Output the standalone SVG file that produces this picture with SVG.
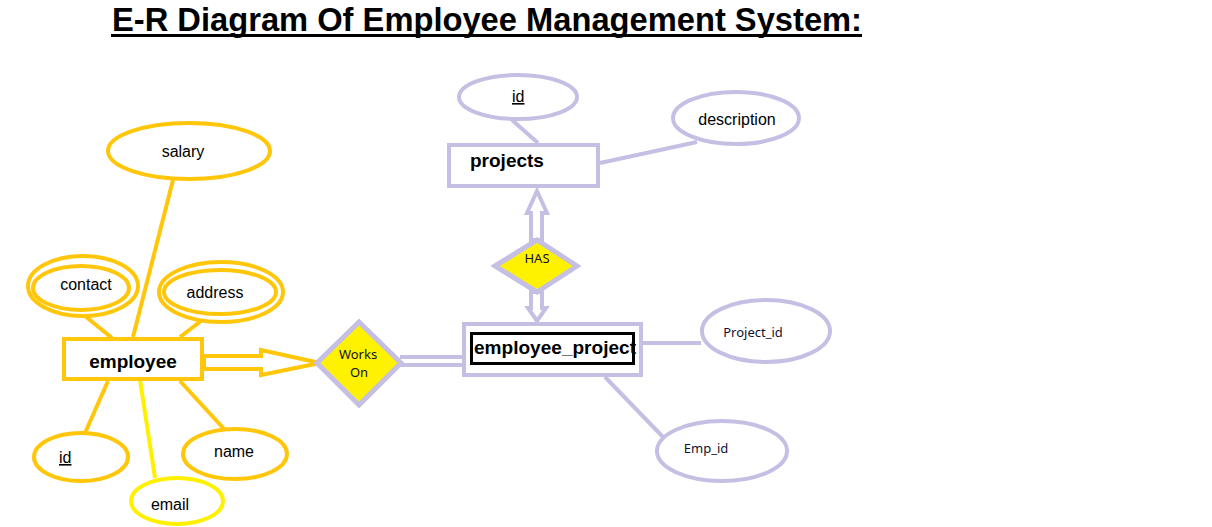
<svg xmlns="http://www.w3.org/2000/svg" width="1212" height="527" viewBox="0 0 1212 527">
<style>
.g{fill:none;stroke:#FFC60A;stroke-width:4}
.gw{fill:#fff;stroke:#FFC60A;stroke-width:4}
.lv{fill:none;stroke:#C6BFE4;stroke-width:4}
.lvw{fill:#fff;stroke:#C6BFE4;stroke-width:4}
.dia{fill:#FFF200;stroke:#C6BFE4;stroke-width:5}
.t{font-family:"Liberation Sans",Arial,sans-serif;font-size:16px;fill:#000}
.tb{font-family:"Liberation Sans",Arial,sans-serif;font-size:19px;font-weight:bold;fill:#000}
.ts{font-family:"Noto Sans","Open Sans",sans-serif;font-size:13px;fill:#111133}
</style>
<rect width="1212" height="527" fill="#fff"/>
<g id="title">
<text x="112" y="31" font-family="'Liberation Sans Narrow','Liberation Sans',Arial,sans-serif" font-size="33" font-weight="bold" textLength="750" lengthAdjust="spacingAndGlyphs">E-R Diagram Of Employee Management System:</text>
<rect x="111" y="34" width="751" height="3" fill="#000"/>
</g>
<g id="connectors">
<line class="g" x1="173" y1="180" x2="133" y2="337"/>
<line class="g" x1="85" y1="316" x2="112" y2="338"/>
<line class="g" x1="201" y1="321" x2="180" y2="337"/>
<line class="g" x1="108" y1="381" x2="85" y2="433"/>
<line class="g" x1="180" y1="381" x2="225" y2="430"/>
<line fill="none" stroke="#FFF000" stroke-width="4" x1="140" y1="380" x2="155" y2="478"/>
<polygon class="gw" points="204,356 261,356 261,350 320,363 261,375 261,369 204,369"/>
<line class="lv" stroke-width="3" x1="400" y1="357" x2="462" y2="357"/>
<line class="lv" stroke-width="3" x1="400" y1="365" x2="462" y2="365"/>
<polygon class="lvw" stroke-width="3" points="531,240 531,213 527,213 537,191 547,213 542,213 542,240"/>
<polygon class="lvw" stroke-width="3" points="531,292 531,308 528,308 537,321 546,308 542,308 542,292"/>
<line class="lv" x1="512" y1="120" x2="538" y2="143"/>
<line class="lv" x1="600" y1="163" x2="697" y2="142"/>
<line class="lv" x1="643" y1="343" x2="701" y2="343"/>
<line class="lv" x1="605" y1="377" x2="663" y2="437"/>
</g>
<g id="employee">
<rect class="gw" x="64" y="339" width="138" height="40"/>
<text class="tb" x="133" y="368" text-anchor="middle">employee</text>
</g>
<g id="salary">
<ellipse class="gw" cx="189" cy="151" rx="81" ry="28"/>
<text class="t" x="183" y="157" text-anchor="middle">salary</text>
</g>
<g id="contact">
<ellipse class="gw" cx="83" cy="286" rx="55" ry="30"/>
<ellipse class="g" cx="81" cy="288" rx="48" ry="22"/>
<text class="t" x="86" y="290" text-anchor="middle">contact</text>
</g>
<g id="address">
<ellipse class="gw" cx="221" cy="292" rx="62" ry="30"/>
<ellipse class="g" cx="220" cy="292" rx="56" ry="22"/>
<text class="t" x="215" y="298" text-anchor="middle">address</text>
</g>
<g id="emp_id">
<ellipse class="gw" cx="81" cy="457" rx="47" ry="24"/>
<text class="t" x="59" y="463" text-decoration="underline">id</text>
</g>
<g id="name">
<ellipse class="gw" cx="235" cy="454" rx="52" ry="25"/>
<text class="t" x="234" y="457" text-anchor="middle">name</text>
</g>
<g id="email">
<ellipse fill="#fff" stroke="#FFF000" stroke-width="4" cx="177" cy="501" rx="46" ry="23"/>
<text class="t" x="170" y="510" text-anchor="middle">email</text>
</g>
<g id="works_on">
<polygon class="dia" points="317,363 359,322 401,363 359,405"/>
<text class="ts" x="358" y="359" text-anchor="middle">Works</text>
<text class="ts" x="359" y="377" text-anchor="middle">On</text>
</g>
<g id="employee_project">
<rect class="lvw" x="464" y="324" width="177" height="51"/>
<rect fill="#fff" stroke="#000" stroke-width="3" x="471.5" y="333.5" width="162" height="30"/>
<text class="tb" x="474" y="354" textLength="162" lengthAdjust="spacingAndGlyphs">employee_project</text>
</g>
<g id="projects">
<rect class="lvw" x="449" y="145" width="149" height="41"/>
<text class="tb" x="470" y="167">projects</text>
</g>
<g id="project_id_attr">
<ellipse class="lvw" cx="518" cy="97" rx="59" ry="22"/>
<text class="t" x="512" y="102" text-decoration="underline">id</text>
</g>
<g id="description">
<ellipse class="lvw" cx="736" cy="118" rx="63" ry="26"/>
<text class="t" x="737" y="125" text-anchor="middle">description</text>
</g>
<g id="has">
<polygon class="dia" points="495,266 537,240 577,266 537,292"/>
<text class="ts" x="537" y="263" text-anchor="middle" font-size="12">HAS</text>
</g>
<g id="project_id">
<ellipse class="lvw" cx="766" cy="331" rx="64" ry="31"/>
<text class="ts" x="753" y="337" text-anchor="middle">Project_id</text>
</g>
<g id="emp_id_attr">
<ellipse class="lvw" cx="722" cy="451" rx="65" ry="30"/>
<text class="ts" x="706" y="453" text-anchor="middle">Emp_id</text>
</g>
</svg>
